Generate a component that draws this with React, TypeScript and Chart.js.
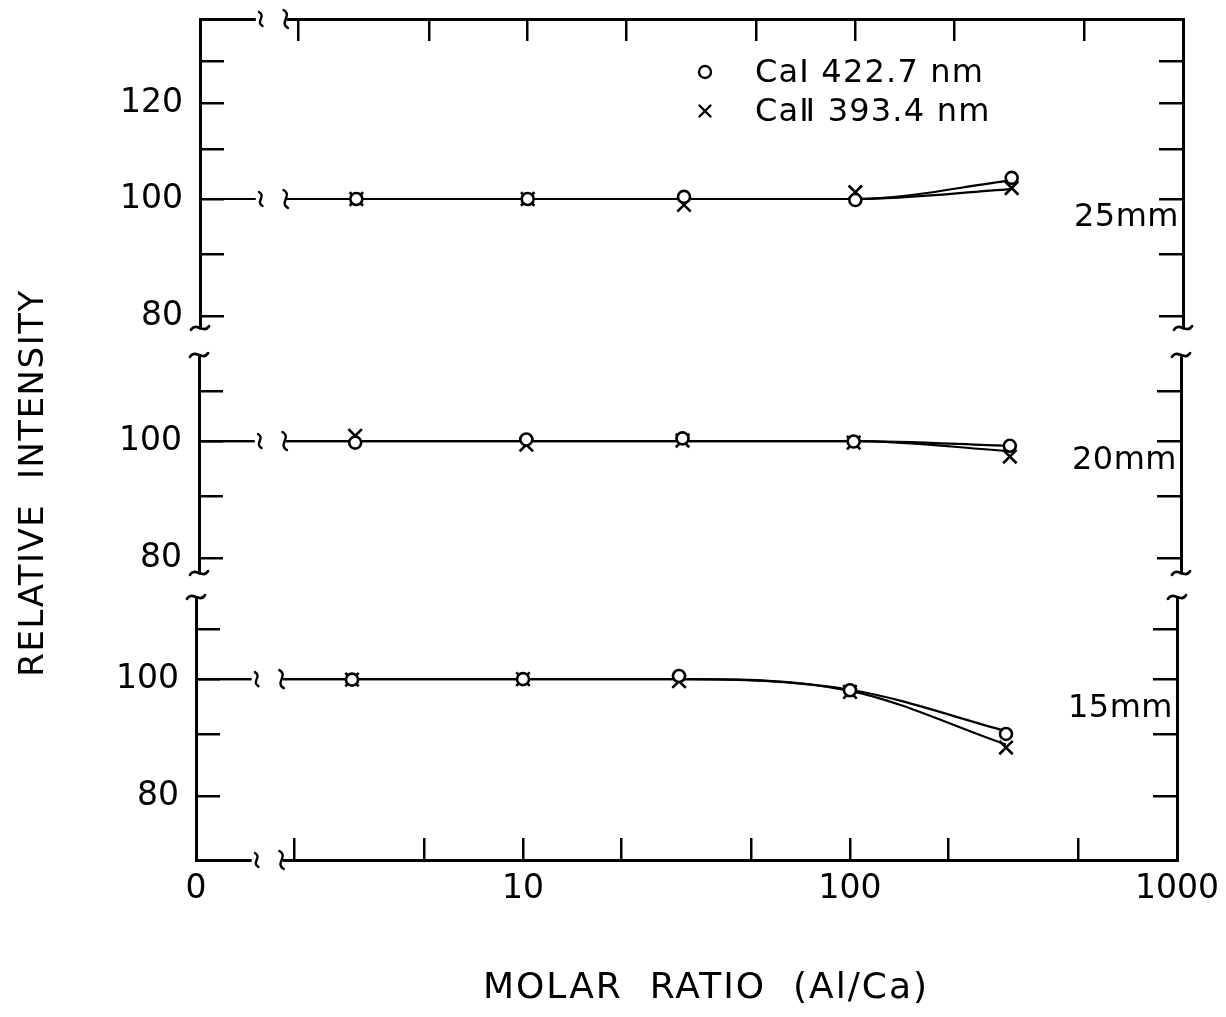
import React, { useEffect, useRef } from 'react';
import { Chart, registerables } from 'chart.js';

Chart.register(...registerables);

const FONT = "'DejaVu Sans', sans-serif";
const INK = '#000';
const W = 1226;
const H = 1017;

// Molar ratio Al/Ca. Ratio 0 sits at the origin of the broken log axis.
const fitRatios = [0, 3, 10, 30, 100, 300];
const pointRatios = [3, 10, 30, 100, 300];
const ZERO_POSITION = 1;
const xTicks = [1, 2, 5, 10, 20, 50, 100, 200, 500, 1000];
const xTickLabels: Record<number, string> = { 1: '0', 10: '10', 100: '100', 1000: '1000' };
const xBreak = [1.48, 1.84];

const seriesNames = ['CaⅠ 422.7 nm', 'CaⅡ 393.4 nm'];

// 25 mm
const caI25 = [100.0, 100.0, 100.4, 99.8, 104.1];
const caII25 = [100.0, 100.0, 98.9, 101.3, 102.1];
const curveI25 = [100, 100, 100, 100, 100, 103.6];
const curveII25 = [100, 100, 100, 100, 100, 101.9];
// 20 mm
const caI20 = [99.7, 100.3, 100.5, 99.9, 99.1];
const caII20 = [101.0, 99.3, 100.1, 99.7, 97.1];
const curveI20 = [100, 100, 100, 100, 100, 99.1];
const curveII20 = [100, 100, 100, 100, 100, 98.1];
// 15 mm
const caI15 = [99.9, 100.0, 100.6, 97.9, 90.1];
const caII15 = [99.9, 100.0, 99.6, 97.6, 87.8];
const curveI15 = [100, 100, 100, 100, 98.0, 90.6];
const curveII15 = [100, 100, 100, 100, 97.8, 88.3];

const yTicksTop = [80, 90, 100, 110, 120, 130];
const yTicksLow = [80, 90, 100, 110];
const yLabelsTop = [80, 100, 120];
const yLabelsLow = [80, 100];

type Panel = {
  name: string;
  caI: number[]; caII: number[]; curveI: number[]; curveII: number[];
  yMin: number; yMax: number; yTicks: number[]; yLabels: number[];
  areaTop: number; areaBottom: number; areaLeft: number; areaRight: number;
  xAxis: 'top' | 'bottom' | 'none';
  openTop: boolean; openBottom: boolean;
  labelAt: number; legend: boolean; titles: boolean;
};

const panels: Panel[] = [
  {
    name: '25mm', caI: caI25, caII: caII25, curveI: curveI25, curveII: curveII25,
    yMin: 78.27, yMax: 140.76, yTicks: yTicksTop, yLabels: yLabelsTop,
    areaTop: 19, areaBottom: 328, areaLeft: 200, areaRight: 1183,
    xAxis: 'top', openTop: false, openBottom: true, labelAt: 96.6, legend: true, titles: false,
  },
  {
    name: '20mm', caI: caI20, caII: caII20, curveI: curveI20, curveII: curveII20,
    yMin: 77.83, yMax: 117.75, yTicks: yTicksLow, yLabels: yLabelsLow,
    areaTop: 355, areaBottom: 573, areaLeft: 199, areaRight: 1181,
    xAxis: 'none', openTop: true, openBottom: true, labelAt: 96.3, legend: false, titles: false,
  },
  {
    name: '15mm', caI: caI15, caII: caII15, curveI: curveI15, curveII: curveII15,
    yMin: 70.9, yMax: 116.9, yTicks: yTicksLow, yLabels: yLabelsLow,
    areaTop: 597, areaBottom: 860, areaLeft: 196, areaRight: 1177,
    xAxis: 'bottom', openTop: true, openBottom: false, labelAt: 94.5, legend: false, titles: true,
  },
];

function vSquiggle(ctx: CanvasRenderingContext2D, x: number, y: number, h: number) {
  ctx.beginPath();
  ctx.moveTo(x - h * 0.25, y - h);
  ctx.bezierCurveTo(x + h * 0.8, y - h * 0.4, x - h * 0.8, y + h * 0.4, x + h * 0.25, y + h);
  ctx.stroke();
}

function hSquiggle(ctx: CanvasRenderingContext2D, x: number, y: number, w: number) {
  ctx.beginPath();
  ctx.moveTo(x - w, y + w * 0.2);
  ctx.bezierCurveTo(x - w * 0.4, y - w * 0.7, x + w * 0.4, y + w * 0.7, x + w, y - w * 0.2);
  ctx.stroke();
}

function spacedText(ctx: CanvasRenderingContext2D, text: string, x: number, y: number, size: number, spacing: number, align: CanvasTextAlign) {
  ctx.font = `${size}px ${FONT}`;
  (ctx as any).letterSpacing = `${spacing}px`;
  ctx.textAlign = align;
  ctx.textBaseline = 'middle';
  ctx.fillStyle = INK;
  ctx.fillText(text, x, y);
  (ctx as any).letterSpacing = '0px';
}

function buildConfig(p: Panel): any {
  const decorPlugin = {
    id: 'decor',
    afterDraw(chart: any) {
      const { ctx, chartArea: ca, scales } = chart;
      const x = scales.x;
      const y = scales.y;
      ctx.save();
      // x-axis break band
      const bx1 = x.getPixelForValue(xBreak[0]);
      const bx2 = x.getPixelForValue(xBreak[1]);
      ctx.fillStyle = '#fff';
      ctx.fillRect(bx1, ca.top - 5, bx2 - bx1, ca.bottom - ca.top + 10);
      ctx.strokeStyle = INK;
      ctx.lineWidth = 2.4;
      ctx.lineCap = 'round';
      const rows = [y.getPixelForValue(100)];
      if (p.xAxis === 'top') rows.push(ca.top);
      if (p.xAxis === 'bottom') rows.push(ca.bottom);
      rows.forEach((yy: number) => {
        vSquiggle(ctx, bx1 + 5, yy, 7);
        vSquiggle(ctx, bx2 - 1, yy, 9);
      });
      // y-axis breaks
      ctx.lineWidth = 2.8;
      const ends: number[] = [];
      if (p.openTop) ends.push(ca.top);
      if (p.openBottom) ends.push(ca.bottom);
      ends.forEach((yy) => {
        hSquiggle(ctx, ca.left, yy, 9);
        hSquiggle(ctx, ca.right, yy, 9);
      });
      // panel label
      spacedText(ctx, p.name, ca.right - 4, y.getPixelForValue(p.labelAt), 32, 0.5, 'right');
      // legend
      if (p.legend) {
        const lx = ca.left + 505;
        const ly1 = 72;
        const ly2 = 111;
        ctx.lineWidth = 2.4;
        ctx.beginPath();
        ctx.arc(lx, ly1, 6, 0, Math.PI * 2);
        ctx.stroke();
        ctx.beginPath();
        ctx.moveTo(lx - 5.5, ly2 - 5.5); ctx.lineTo(lx + 5.5, ly2 + 5.5);
        ctx.moveTo(lx + 5.5, ly2 - 5.5); ctx.lineTo(lx - 5.5, ly2 + 5.5);
        ctx.stroke();
        spacedText(ctx, seriesNames[0], lx + 50, ly1 + 2, 32, 1.2, 'left');
        spacedText(ctx, seriesNames[1], lx + 50, ly2 + 2, 32, 1.2, 'left');
      }
      // axis titles
      if (p.titles) {
        spacedText(ctx, 'MOLAR  RATIO  (Al/Ca)', 706, 989, 36, 2, 'center');
        ctx.save();
        ctx.translate(34, 483);
        ctx.rotate(-Math.PI / 2);
        spacedText(ctx, 'RELATIVE  INTENSITY', 0, 0, 34, 1.5, 'center');
        ctx.restore();
      }
      ctx.restore();
    },
  };

  const toPoints = (vals: number[]) => pointRatios.map((r, i) => ({ x: r, y: vals[i] }));
  const toCurve = (vals: number[]) => fitRatios.map((r, i) => ({ x: r === 0 ? ZERO_POSITION : r, y: vals[i] }));

  const yCommon = {
    type: 'logarithmic',
    min: p.yMin,
    max: p.yMax,
    afterBuildTicks: (s: any) => { s.ticks = p.yTicks.map((v) => ({ value: v })); },
    grid: { drawOnChartArea: false, drawTicks: true, tickLength: -24, tickWidth: 2.5, tickColor: INK, lineWidth: 2.5, color: INK },
    border: { display: true, color: INK, width: 3 },
  };

  const xHeight = p.xAxis === 'top' ? p.areaTop : p.xAxis === 'bottom' ? H - p.areaBottom : 0;

  return {
    type: 'scatter',
    data: {
      datasets: [
        {
          label: seriesNames[0], data: toPoints(p.caI), showLine: false,
          pointStyle: 'circle', pointRadius: 6, pointBorderWidth: 2.6,
          pointBackgroundColor: '#fff', pointBorderColor: INK, borderColor: INK, order: 0,
        },
        {
          label: seriesNames[1], data: toPoints(p.caII), showLine: false,
          pointStyle: 'crossRot', pointRadius: 9.5, pointBorderWidth: 2.6,
          pointBorderColor: INK, borderColor: INK, order: 0,
        },
        {
          label: seriesNames[0] + ' curve', data: toCurve(p.curveI), showLine: true,
          pointRadius: 0, borderWidth: 2.2, borderColor: INK, cubicInterpolationMode: 'monotone', order: 1,
        },
        {
          label: seriesNames[1] + ' curve', data: toCurve(p.curveII), showLine: true,
          pointRadius: 0, borderWidth: 2.2, borderColor: INK, cubicInterpolationMode: 'monotone', order: 1,
        },
      ],
    },
    options: {
      responsive: false,
      animation: false,
      events: [],
      layout: {
        padding: {
          left: 0,
          right: 0,
          top: p.xAxis === 'top' ? 0 : p.areaTop,
          bottom: p.xAxis === 'bottom' ? 0 : H - p.areaBottom,
        },
      },
      plugins: { legend: { display: false }, tooltip: { enabled: false } },
      scales: {
        x: {
          type: 'logarithmic',
          display: p.xAxis !== 'none',
          position: p.xAxis === 'top' ? 'top' : 'bottom',
          min: 1,
          max: 1000,
          afterBuildTicks: (s: any) => { s.ticks = xTicks.map((v) => ({ value: v })); },
          afterFit: (s: any) => {
            s.height = xHeight;
            s.paddingLeft = 0; s.paddingRight = 0;
          },
          ticks: {
            display: p.xAxis === 'bottom', autoSkip: false, maxRotation: 0, padding: 32,
            color: INK, font: { family: FONT, size: 33 },
            callback: (v: number) => xTickLabels[v] ?? '',
          },
          grid: { drawOnChartArea: false, drawTicks: true, tickLength: -22, tickWidth: 2.5, tickColor: INK, lineWidth: 2.5, color: INK },
          border: { display: true, color: INK, width: 3 },
        },
        y: {
          ...yCommon,
          position: 'left',
          afterFit: (s: any) => { s.width = p.areaLeft; s.paddingTop = 0; s.paddingBottom = 0; },
          ticks: {
            autoSkip: false, padding: 41, color: INK, font: { family: FONT, size: 33 },
            callback: (v: number) => (p.yLabels.includes(v) ? String(v) : ''),
          },
        },
        yr: {
          ...yCommon,
          position: 'right',
          afterFit: (s: any) => { s.width = W - p.areaRight; s.paddingTop = 0; s.paddingBottom = 0; },
          ticks: { display: false, autoSkip: false },
        },
      },
    },
    plugins: [decorPlugin],
  };
}

export default function App() {
  const refs = useRef<(HTMLCanvasElement | null)[]>([]);
  useEffect(() => {
    const charts = panels.map((p, i) => new Chart(refs.current[i] as HTMLCanvasElement, buildConfig(p)));
    return () => charts.forEach((c) => c.destroy());
  }, []);
  return (
    <div style={{ position: 'absolute', left: 0, top: 0, width: W, height: H, background: '#fff', overflow: 'hidden' }}>
      {panels.map((p, i) => (
        <canvas
          key={p.name}
          ref={(el) => { refs.current[i] = el; }}
          width={W}
          height={H}
          style={{ position: 'absolute', left: 0, top: 0, width: W, height: H }}
        />
      ))}
    </div>
  );
}
